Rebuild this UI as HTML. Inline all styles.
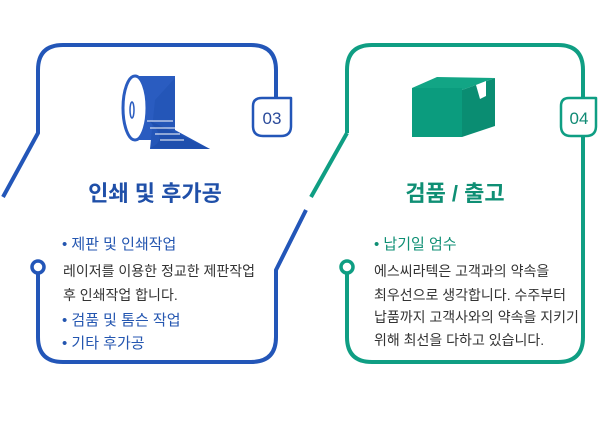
<!DOCTYPE html>
<html><head><meta charset="utf-8"><style>
body{margin:0;background:#fff;width:600px;height:420px;overflow:hidden;font-family:"Liberation Sans","Noto Sans CJK KR",sans-serif}
</style></head><body>
<svg width="600" height="420" viewBox="0 0 600 420" xmlns="http://www.w3.org/2000/svg" font-family="Liberation Sans, Noto Sans CJK KR, sans-serif">
<g fill="none" stroke="#2356b8" stroke-width="4" stroke-linejoin="round">
<path d="M276 97 V70 Q276 45 251 45 H63 Q38 45 38 70 V133 L3 197"/>
<path d="M38 273 V337 Q38 362 63 362 H251 Q276 362 276 337 V270 L306 210"/>
<circle cx="38" cy="267" r="6" stroke-width="3.5"/>
<path d="M262 98 H291 V126 Q291 136 281 136 H263 Q253 136 253 126 V106 Q253 98 262 98Z" stroke-width="2.5" fill="#fff"/>
</g>
<g fill="none" stroke="#0f9e83" stroke-width="4" stroke-linejoin="round">
<path d="M347 133 V70 Q347 45 372 45 H558 Q583 45 583 70 V97"/>
<path d="M347 133 L311 197"/>
<path d="M347 273 V337 Q347 362 372 362 H558 Q583 362 583 337 V136"/>
<circle cx="347" cy="267" r="6" stroke-width="3.5"/>
<path d="M569 98 H596 V126 Q596 136 586 136 H571 Q561 136 561 126 V106 Q561 98 569 98Z" stroke-width="2.5" fill="#fff"/>
</g>
<text x="272" y="124" text-anchor="middle" font-size="17" fill="#2a4a9a">03</text>
<text x="579" y="124" text-anchor="middle" font-size="17" fill="#0f8a74">04</text>
<!-- roll -->
<path d="M135 76 H175 V140 H135 Z" fill="#2a5cc0"/>
<ellipse cx="135" cy="108" rx="12" ry="32" fill="#fff" stroke="#2a5cc0" stroke-width="3"/>
<ellipse cx="132" cy="110" rx="2" ry="8" fill="none" stroke="#2a5cc0" stroke-width="1.5"/>
<path d="M155 100 L175 78 V130 L210 149 H150 Z" fill="#2456b8"/>
<path d="M148 120 Q170 140 150 148 L210 149 Z" fill="#1f4fae"/>
<g stroke="#fff" stroke-width="1"><line x1="147" y1="121" x2="173" y2="121"/><line x1="150" y1="128" x2="176" y2="128"/><line x1="155" y1="134" x2="180" y2="134"/><line x1="160" y1="140" x2="184" y2="140"/></g>
<!-- box -->
<path d="M412 88 L437 77 L495 78 L462 90 Z" fill="#12a585"/>
<path d="M412 88 H462 V137 H412 Z" fill="#0b9c7e"/>
<path d="M462 90 L495 78 V126 L462 137 Z" fill="#0a8d72"/>
<path d="M476 85 L486 81 V96 L480 99 Z" fill="#fff"/>
<text x="155" y="201" text-anchor="middle" font-size="22" font-weight="bold" fill="#1f4fa8">인쇄 및 후가공</text>
<text x="455" y="201" text-anchor="middle" font-size="22" font-weight="bold" fill="#0f8f74">검품 / 출고</text>
<g font-size="15" fill="#2456b0">
<text x="62" y="249">• 제판 및 인쇄작업</text>
<text x="62" y="325">• 검품 및 톰슨 작업</text>
<text x="62" y="348">• 기타 후가공</text>
</g>
<g font-size="14" fill="#333">
<text x="63" y="276">레이저를 이용한 정교한 제판작업</text>
<text x="63" y="300">후 인쇄작업 합니다.</text>
</g>
<text x="374" y="249" font-size="15" fill="#0f8f74">• 납기일 엄수</text>
<g font-size="14" fill="#333">
<text x="374" y="276">에스씨라텍은 고객과의 약속을</text>
<text x="374" y="300">최우선으로 생각합니다. 수주부터</text>
<text x="374" y="322">납품까지 고객사와의 약속을 지키기</text>
<text x="374" y="345">위해 최선을 다하고 있습니다.</text>
</g>
</svg>
</body></html>
